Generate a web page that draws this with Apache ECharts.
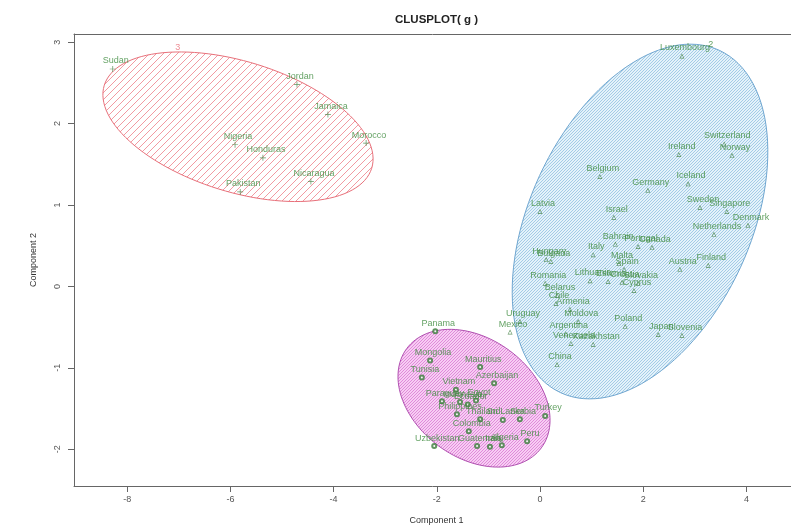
<!DOCTYPE html>
<html>
<head>
<meta charset="utf-8">
<script src="https://cdn.jsdelivr.net/npm/echarts@6/dist/echarts.min.js"></script>
<style>
html,body{margin:0;padding:0;background:#fff;}
#main{width:791px;height:530px;}
</style>
</head>
<body>
<div id="main"></div>
<script>
// 簇3 (红色椭圆)
var c3Names=["Sudan","Jordan","Jamaica","Morocco","Nigeria","Honduras","Nicaragua","Pakistan"];
var c3X=[-8.28,-4.71,-4.11,-3.37,-5.91,-5.37,-4.44,-5.81];
var c3Y=[2.67,2.48,2.11,1.76,1.74,1.58,1.29,1.16];
// 簇2 (蓝色椭圆)
var c2Names=["Luxembourg","Switzerland","Norway","Ireland","Belgium","Germany","Iceland","Sweden","Singapore","Denmark",
	"Netherlands","Israel","Latvia","Bahrain","Canada","Portugal","Hungary","Bulgaria","Italy","Malta",
	"Spain","Austria","Finland","Romania","Lithuania","Estonia","Croatia","Slovakia","Cyprus","Belarus",
	"Chile","Armenia","Uruguay","Mexico","Moldova","Poland","Argentina","Kazakhstan","Venezuela","Japan",
	"Slovenia","China"];
var c2X=[2.75,3.57,3.72,2.69,1.16,2.09,2.87,3.10,3.62,4.03,
	3.37,1.43,0.00,1.46,2.17,1.90,0.12,0.21,1.03,1.53,
	1.63,2.71,3.26,0.10,0.97,1.32,1.59,1.90,1.82,0.33,
	0.31,0.58,-0.39,-0.58,0.74,1.65,0.50,1.03,0.60,2.29,
	2.75,0.33];
var c2Y=[2.83,1.75,1.61,1.62,1.35,1.18,1.26,0.97,0.92,0.75,
	0.64,0.85,0.92,0.52,0.48,0.49,0.33,0.31,0.39,0.28,
	0.21,0.21,0.26,0.04,0.07,0.06,0.05,0.04,-0.05,-0.11,
	-0.21,-0.28,-0.43,-0.56,-0.43,-0.49,-0.58,-0.71,-0.70,-0.59,
	-0.60,-0.96];
// 簇1 (紫色椭圆)
var c1Names=["Panama","Mongolia","Mauritius","Tunisia","Azerbaijan","Vietnam","Paraguay","Indonesia","Egypt","Ecuador",
	"Philippines","Thailand","Sri Lanka","Serbia","Turkey","Colombia","Uzbekistan","Guatemala","Algeria","Peru","Iran"];
var c1X=[-2.03,-2.13,-1.16,-2.29,-0.89,-1.63,-1.90,-1.55,-1.24,-1.40,
	-1.61,-1.16,-0.72,-0.39,0.10,-1.38,-2.05,-1.22,-0.74,-0.25,-0.97];
var c1Y=[-0.55,-0.91,-0.99,-1.12,-1.19,-1.27,-1.41,-1.42,-1.40,-1.45,
	-1.57,-1.63,-1.64,-1.63,-1.59,-1.78,-1.96,-1.96,-1.95,-1.90,-1.97];
// 椭圆: 中心, 两个半轴向量
var ellRed=[-5.853,1.961,2.591,-0.510,-0.376,-0.764];
var ellBlue=[1.938,0.797,1.535,2.103,1.944,-0.567];
var ellPink=[-1.279,-1.373,1.304,-0.610,-0.686,-0.586];
// 刻度
var xTicks=[-8,-6,-4,-2,0,2,4];
var yTicks=[-2,-1,0,1,2,3];
var clusNum=["3","2"];
var clusNumX=[-7.02,3.31];
var clusNumY=[2.94,2.97];

function hatch(bg,fg,gap){
	var c=document.createElement("canvas");
	c.width=gap;c.height=gap;
	var ctx=c.getContext("2d");
	if(bg){ctx.fillStyle=bg;ctx.fillRect(0,0,gap,gap);}
	ctx.strokeStyle=fg;ctx.lineWidth=1;
	ctx.beginPath();
	ctx.moveTo(0,gap);ctx.lineTo(gap,0);
	ctx.moveTo(-1,1);ctx.lineTo(1,-1);
	ctx.moveTo(gap-1,gap+1);ctx.lineTo(gap+1,gap-1);
	ctx.stroke();
	return {image:c,repeat:"repeat"};
}
function pts(xs,ys,names){
	var arr=[];
	for(var i=0;i<xs.length;i++){
		arr.push([xs[i],ys[i],names[i]]);
	}
	return arr;
}
function ellSeries(e,fill,stroke){
	return {
		type:"custom",
		z:1,
		silent:true,
		data:[e],
		encode:{x:0,y:1},
		renderItem:function(params,api){
			var d=[api.value(0),api.value(1),api.value(2),api.value(3),api.value(4),api.value(5)];
			var p=[];
			for(var k=0;k<120;k++){
				var t=k/120*Math.PI*2;
				p.push(api.coord([d[0]+d[2]*Math.cos(t)+d[4]*Math.sin(t),d[1]+d[3]*Math.cos(t)+d[5]*Math.sin(t)]));
			}
			return {type:"polygon",shape:{points:p},style:{fill:fill,stroke:stroke,lineWidth:1}};
		}
	};
}
var txtColor="#3d8b3d";
var labelOpt={
	show:true,
	position:"inside",
	offset:[3,-8],
	color:txtColor,
	fontSize:9,
	fontFamily:"Liberation Sans",
	formatter:function(p){return p.value[2];}
};
var myChart=echarts.init(document.getElementById("main"));
var option={
	backgroundColor:"#fff",
	animation:false,
	title:{
		text:"CLUSPLOT( g )",
		left:390,
		top:9,
		textStyle:{fontSize:11.5,fontWeight:"bold",color:"#222",fontFamily:"Liberation Sans"}
	},
	grid:{left:74,right:0,top:34,bottom:43},
	xAxis:[{
		type:"value",
		min:-9.031,
		max:4.864,
		name:"Component 1",
		nameLocation:"middle",
		nameGap:30,
		nameTextStyle:{fontSize:9,color:"#333",fontFamily:"Liberation Sans",padding:[0,0,0,8]},
		axisLine:{show:true,onZero:false,lineStyle:{color:"#666"}},
		splitLine:{show:false},
		axisTick:{show:true,length:6,customValues:xTicks,lineStyle:{color:"#666"}},
		axisLabel:{customValues:xTicks,fontSize:9,color:"#555",margin:9,fontFamily:"Liberation Sans"}
	},{
		type:"value",
		position:"top",
		min:-9.031,
		max:4.864,
		axisLine:{show:true,onZero:false,lineStyle:{color:"#666"}},
		splitLine:{show:false},
		axisTick:{show:false},
		axisLabel:{show:false}
	}],
	yAxis:{
		type:"value",
		min:-2.451,
		max:3.100,
		name:"Component 2",
		nameLocation:"middle",
		nameGap:36,
		nameTextStyle:{fontSize:9,color:"#333",fontFamily:"Liberation Sans"},
		axisLine:{show:true,onZero:false,lineStyle:{color:"#666"}},
		splitLine:{show:false},
		axisTick:{show:true,length:6,customValues:yTicks,lineStyle:{color:"#666"}},
		axisLabel:{customValues:yTicks,rotate:90,fontSize:9,color:"#555",margin:12,fontFamily:"Liberation Sans"}
	},
	series:[
		ellSeries(ellRed,hatch(null,"#f29aa2",7),"#e8707a"),
		ellSeries(ellBlue,hatch("#e4f2fa","#a3cbe6",3),"#6fa6d0"),
		ellSeries(ellPink,hatch("#f7cdf3","#e08ada",3),"#b050b0"),
		{
			type:"scatter",
			z:3,
			symbol:"path://M4.4,0h1.2v10h-1.2zM0,4.4h10v1.2h-10z",
			symbolSize:6,
			itemStyle:{color:"#3a7a3a"},
			label:labelOpt,
			data:pts(c3X,c3Y,c3Names)
		},
		{
			type:"scatter",
			z:3,
			symbol:"path://M5,0L10,9L0,9Z M5,2.6L1.8,7.8L8.2,7.8Z",
			symbolSize:5,
			itemStyle:{color:"#3a7a3a"},
			label:labelOpt,
			data:pts(c2X,c2Y,c2Names)
		},
		{
			type:"scatter",
			z:3,
			symbol:"emptyCircle",
			symbolSize:4,
			itemStyle:{color:"#3a7a3a",borderColor:"#3a7a3a",borderWidth:0.6},
			label:labelOpt,
			data:pts(c1X,c1Y,c1Names)
		},
		{
			type:"scatter",
			z:4,
			symbolSize:0,
			label:{
				show:true,
				position:"inside",
				fontSize:9,
				fontFamily:"Liberation Sans",
				formatter:function(p){return p.value[2];}
			},
			data:[
				{value:[clusNumX[0],clusNumY[0],clusNum[0]],label:{color:"#e8707a"}},
				{value:[clusNumX[1],clusNumY[1],clusNum[1]],label:{color:"#3d8b3d"}}
			]
		}
	]
};
myChart.setOption(option);
</script>
</body>
</html>
